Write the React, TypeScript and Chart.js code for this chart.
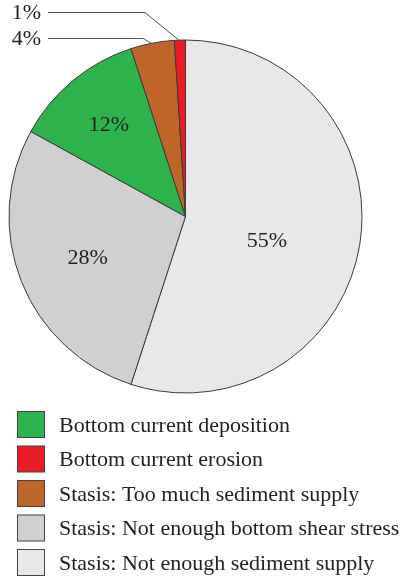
import React, { useEffect, useRef } from "react";
import { Chart, registerables } from "chart.js";

Chart.register(...registerables);

const categories = [
  "Stasis: Not enough sediment supply",
  "Stasis: Not enough bottom shear stress",
  "Bottom current deposition",
  "Stasis: Too much sediment supply",
  "Bottom current erosion",
];
const values = [55, 28, 12, 4, 1];
const sliceColors = ["#e8e8ea", "#d0d0d0", "#2eb24b", "#c0652a", "#ec1c24"];
const labelRadius = [0.48, 0.6, 0.68, 0, 0];
const labelAngleShiftDeg = [7, -1, 0, 0, 0];
const outsideLabel = [false, false, false, true, true];
const legendOrder = [2, 4, 3, 1, 0];

const FONT = "22px 'Liberation Serif', 'Times New Roman', serif";

const labelPlugin = {
  id: "pieLabels",
  afterDraw(chart: any) {
    const ctx = chart.ctx;
    const meta = chart.getDatasetMeta(0);
    ctx.save();
    ctx.font = FONT;
    ctx.fillStyle = "#231f20";
    ctx.textBaseline = "middle";
    let outsideRow = 0;
    const outsideIdx: number[] = [];
    meta.data.forEach((arc: any, i: number) => {
      const mid = (arc.startAngle + arc.endAngle) / 2 + (labelAngleShiftDeg[i] * Math.PI) / 180;
      const txt = values[i] + "%";
      if (!outsideLabel[i]) {
        const r = arc.outerRadius * labelRadius[i];
        ctx.textAlign = "center";
        ctx.fillText(txt, arc.x + Math.cos(mid) * r, arc.y + Math.sin(mid) * r + 1);
      } else {
        outsideIdx.push(i);
      }
    });
    outsideIdx.reverse().forEach((i) => {
      const arc = meta.data[i];
      const mid = (arc.startAngle + arc.endAngle) / 2;
      const px = arc.x + Math.cos(mid) * arc.outerRadius;
      const py = arc.y + Math.sin(mid) * arc.outerRadius;
      const rowY = 12 + outsideRow * 26;
      const bendX = px - 9 - (outsideRow === 0 ? 26 : 0);
      ctx.strokeStyle = "#555";
      ctx.lineWidth = 1;
      ctx.beginPath();
      ctx.moveTo(48, rowY + 0.5);
      ctx.lineTo(bendX, rowY + 0.5);
      ctx.lineTo(px, py + 1);
      ctx.stroke();
      ctx.textAlign = "right";
      ctx.fillStyle = "#231f20";
      ctx.fillText(values[i] + "%", 41, rowY + 1);
      outsideRow++;
    });
    ctx.textAlign = "left";
    legendOrder.forEach((ci, row) => {
      const top = 411 + row * 34.5;
      ctx.fillStyle = sliceColors[ci];
      ctx.fillRect(17.5, top + 0.5, 27, 26);
      ctx.strokeStyle = "#444";
      ctx.lineWidth = 1;
      ctx.strokeRect(17.5, top + 0.5, 27, 26);
      ctx.fillStyle = "#231f20";
      ctx.fillText(categories[ci], 59, top + 15);
    });
    ctx.restore();
  },
};

export default function App() {
  const ref = useRef<HTMLCanvasElement>(null);
  useEffect(() => {
    document.body.style.margin = "0";
    const chart = new Chart(ref.current!, {
      type: "pie",
      data: {
        labels: categories,
        datasets: [
          {
            data: values,
            backgroundColor: sliceColors,
            borderColor: "#3a3a3a",
            borderWidth: 1,
          },
        ],
      },
      options: {
        animation: false,
        responsive: false,
        layout: { padding: { left: 8.5, top: 39.5, right: 41.5, bottom: 188.5 } },
        plugins: { legend: { display: false }, tooltip: { enabled: false } },
      },
      plugins: [labelPlugin],
    });
    return () => chart.destroy();
  }, []);
  return (
    <div style={{ width: 404, height: 582, background: "#fff" }}>
      <canvas ref={ref} width={404} height={582} style={{ display: "block" }} />
    </div>
  );
}
